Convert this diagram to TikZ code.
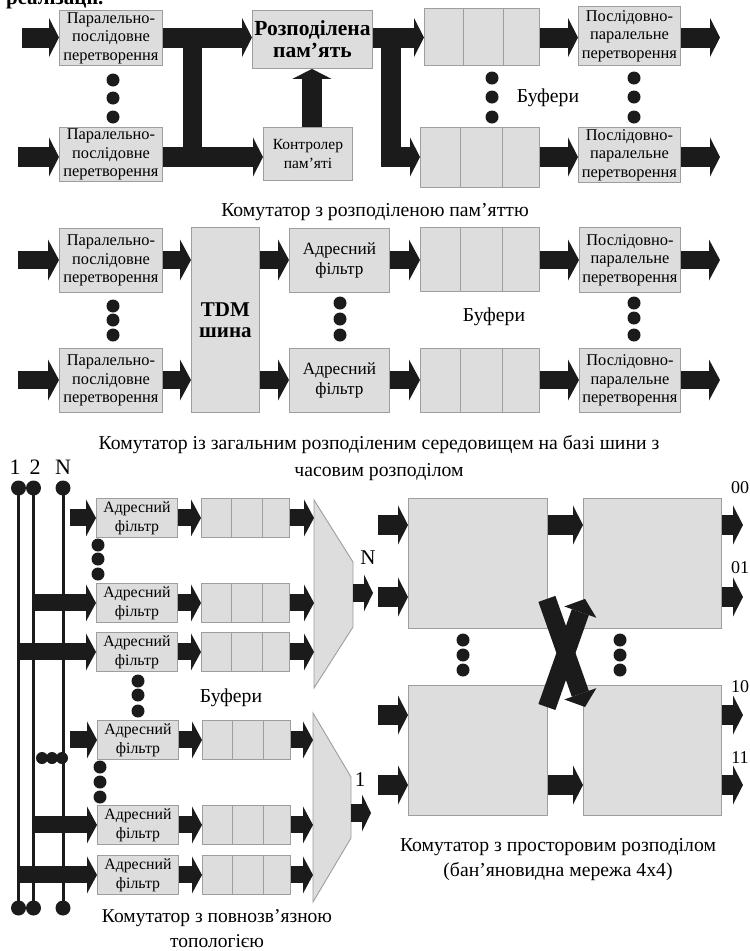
\documentclass[tikz,border=0pt]{standalone}
\usepackage{fontspec}
\setmainfont{Liberation Serif}
\usetikzlibrary{arrows.meta,calc}
\definecolor{boxgray}{RGB}{221,221,221}
\definecolor{bordergray}{RGB}{158,158,158}
\definecolor{ink}{RGB}{27,27,27}
\newcommand\fsBox{\fontsize{16.4}{18.5}\selectfont}
\newcommand\fsSmall{\fontsize{15.8}{19}\selectfont}
\newcommand\fsFilt{\fontsize{17.2}{20}\selectfont}
\newcommand\fsCtrl{\fontsize{15.5}{19}\selectfont}
\newcommand\fsBold{\fontsize{21.5}{22}\selectfont\bfseries}
\newcommand\fsCap{\fontsize{19.7}{26}\selectfont}
\newcommand\fsLbl{\fontsize{22}{24}\selectfont}
\newcommand\fsOut{\fontsize{18}{20}\selectfont}
\begin{document}
\begin{tikzpicture}[x=1pt,y=-1pt,
  box/.style={draw=bordergray, fill=boxgray, line width=0.9pt, inner sep=0pt, align=center, anchor=north west, font=\fsBox},
  sz/.style 2 args={minimum width=#1pt, minimum height=#2pt},
  buf/.style={box, path picture={
     \draw[bordergray, line width=0.9pt]
      ($(path picture bounding box.north west)!0.34!(path picture bounding box.north east)$) --
      ($(path picture bounding box.south west)!0.34!(path picture bounding box.south east)$)
      ($(path picture bounding box.north west)!0.69!(path picture bounding box.north east)$) --
      ($(path picture bounding box.south west)!0.69!(path picture bounding box.south east)$);}},
  bigarrow/.style={draw=ink, line width=20pt, line join=miter, -{Triangle[length=10pt,width=39pt,line width=0pt]}},
  midarrow/.style={draw=ink, line width=18pt, -{Triangle[length=11pt,width=41pt,line width=0pt]}},
  smallarrow/.style={draw=ink, line width=17pt, -{Triangle[length=10pt,width=37pt,line width=0pt]}},
  crossarrow/.style={draw=ink, line width=18pt, -{Triangle[length=14pt,width=34pt,line width=0pt]}},
  fatbar/.style={draw=ink, line width=19pt},
  busline/.style={draw=ink, line width=3pt},
  dot/.style={circle, fill=ink, inner sep=0pt, minimum size=13pt},
  bigdot/.style={circle, fill=ink, inner sep=0pt, minimum size=15pt},
  lbl/.style={inner sep=0pt, font=\fsCap, align=center},
  mux/.style={draw=bordergray, fill=boxgray, line width=0.9pt}
]
\useasboundingbox (0,0) rectangle (750,951);
\fill[white] (0,0) rectangle (750,951);
\begin{scope}
\clip (0,0) rectangle (750,951);
\node[anchor=base west, inner sep=0pt, font=\fontsize{21}{22}\selectfont\bfseries] (frag) at (6,4) {реалізації.};
\end{scope}

% ================= Section 1: shared memory =================
\node[box, sz={103}{55}] (ps1) at (59,10) {Паралельно-\\послідовне\\перетворення};
\node[box, sz={103}{54}] (ps2) at (59,127) {Паралельно-\\послідовне\\перетворення};
\node[box, sz={120}{58}, font=\fsBold] (mem) at (252,10) {Розподілена\\пам’ять};
\node[box, sz={89}{53}, font=\fsCtrl] (ctrl) at (263,127) {Контролер\\пам’яті};
\node[buf, sz={115}{57}] (buf1) at (424,8) {};
\node[buf, sz={119}{60}] (buf2) at (420,127) {};
\node[box, sz={102}{59}] (sp1) at (578,6) {Послідовно-\\паралельне\\перетворення};
\node[box, sz={102}{55}] (sp2) at (578,127) {Послідовно-\\паралельне\\перетворення};

\coordinate (r1) at (0,37.5);
\coordinate (r2) at (0,157);
\coordinate (in1) at (22,37.5);
\coordinate (in2) at (18,157);
\coordinate (tbx) at (192,0);
\coordinate (mbx) at (390.5,0);
\coordinate (out1) at (720,37.5);
\coordinate (out2) at (720,157);

\draw[fatbar] (ps1.east -| tbx) -- (r2 -| tbx);
\draw[bigarrow] (in1) -- (in1 -| ps1.west);
\draw[bigarrow] (in2) -- (in2 -| ps2.west);
\draw[bigarrow] (r1 -| ps1.east) -- (r1 -| mem.west);
\draw[bigarrow] (r2 -| ps2.east) -- (r2 -| ctrl.west);
\draw[bigarrow] ([xshift=4pt]ctrl.north) -- ([xshift=4pt]ctrl.north |- mem.south);
\draw[bigarrow] (r1 -| mem.east) -- (r1 -| buf1.west);
\draw[bigarrow] (r1 -| mbx) -- (r2 -| mbx) -- (r2 -| buf2.west);
\draw[bigarrow] (r1 -| buf1.east) -- (r1 -| sp1.west);
\draw[bigarrow] (r2 -| buf2.east) -- (r2 -| sp2.west);
\draw[bigarrow] (r1 -| sp1.east) -- (out1);
\draw[bigarrow] (r2 -| sp2.east) -- (out2);

\foreach \x/\y [count=\k] in {113/80,113/98,113/117,492/78,492/97,492/117,634/78,634/97,634/117}
  \node[dot] (da\k) at (\x,\y) {};
\node[lbl] (bufl1) at (548,98) {Буфери};
\node[lbl] (cap1) at (375,212) {Комутатор з розподіленою пам'яттю};

% ================= Section 2: TDM bus =================
\node[box, sz={103}{64}] (ps3) at (59,228) {Паралельно-\\послідовне\\перетворення};
\node[box, sz={103}{64}] (ps4) at (59,348) {Паралельно-\\послідовне\\перетворення};
\node[box, sz={68}{185}, font={\fontsize{21}{21}\selectfont\bfseries}] (tdm) at (191,227) {TDM\\шина};
\node[box, sz={100}{64}, font=\fsFilt] (af1) at (289,228) {Адресний\\фільтр};
\node[box, sz={100}{64}, font=\fsFilt] (af2) at (289,348) {Адресний\\фільтр};
\node[buf, sz={119}{64}] (buf3) at (420,227) {};
\node[buf, sz={119}{64}] (buf4) at (420,348) {};
\node[box, sz={101}{65}] (sp3) at (579,227) {Послідовно-\\паралельне\\перетворення};
\node[box, sz={101}{64}] (sp4) at (579,348) {Послідовно-\\паралельне\\перетворення};

\coordinate (in3) at (18,260);
\coordinate (in4) at (18,380);
\coordinate (out3) at (720,260);
\coordinate (out4) at (720,380);
\draw[midarrow] (in3) -- (in3 -| ps3.west);
\draw[midarrow] (in4) -- (in4 -| ps4.west);
\draw[midarrow] (in3 -| ps3.east) -- (in3 -| tdm.west);
\draw[midarrow] (in4 -| ps4.east) -- (in4 -| tdm.west);
\draw[midarrow] (in3 -| tdm.east) -- (in3 -| af1.west);
\draw[midarrow] (in4 -| tdm.east) -- (in4 -| af2.west);
\draw[midarrow] (in3 -| af1.east) -- (in3 -| buf3.west);
\draw[midarrow] (in4 -| af2.east) -- (in4 -| buf4.west);
\draw[midarrow] (in3 -| buf3.east) -- (in3 -| sp3.west);
\draw[midarrow] (in4 -| buf4.east) -- (in4 -| sp4.west);
\draw[midarrow] (in3 -| sp3.east) -- (out3);
\draw[midarrow] (in4 -| sp4.east) -- (out4);

\foreach \x/\y [count=\k] in {113/306,113/320,113/335,340/303,340/319,340/335,634/303,634/318,634/335}
  \node[dot] (db\k) at (\x,\y) {};
\node[lbl] (bufl2) at (494,317) {Буфери};
\node[lbl, font={\fontsize{19.7}{27}\selectfont}] (cap2) at (379,458.5) {Комутатор із загальним розподіленим середовищем на базі шини з\\часовим розподілом};

% ================= Section 3: fully connected =================
\node[inner sep=0pt, font=\fsLbl] (l1) at (15,467) {1};
\node[inner sep=0pt, font=\fsLbl] (l2) at (35,467) {2};
\node[inner sep=0pt, font=\fsLbl] (lN) at (63,467) {N};
\node[bigdot] (t1) at (18.5,488) {};
\node[bigdot] (t2) at (33.5,488) {};
\node[bigdot] (tN) at (63,488) {};
\node[bigdot] (b1) at (18.5,908) {};
\node[bigdot] (b2) at (33.5,908) {};
\node[bigdot] (bN) at (63,908) {};
\draw[busline] (t1.center) -- (b1.center);
\draw[busline] (t2.center) -- (b2.center);
\draw[busline] (tN.center) -- (bN.center);

\foreach \i/\fx/\fy/\bx in {1/96/498/201, 2/96/583/201, 3/96/632/201, 4/97/720/202, 5/97/805/202, 6/97/855/202} {
  \node[box, sz={81}{39}, font=\fsSmall] (f\i) at (\fx,\fy) {Адресний\\фільтр};
  \node[buf, sz={88}{39}] (q\i) at (\bx,\fy) {};
  \draw[smallarrow] (f\i.east) -- (q\i.west);
}
\coordinate (rin1) at (70,0);
\draw[smallarrow] (rin1 |- f1.west) -- (f1.west);
\draw[smallarrow] (t2 |- f2.west) -- (f2.west);
\draw[smallarrow] (t1 |- f3.west) -- (f3.west);
\draw[smallarrow] (rin1 |- f4.west) -- (f4.west);
\draw[smallarrow] (t2 |- f5.west) -- (f5.west);
\draw[smallarrow] (t1 |- f6.west) -- (f6.west);

\draw[mux] (314,500) coordinate (m1a) -- (353,562) -- (353,627) -- (314,688) -- cycle;
\draw[mux] (313,713) coordinate (m2a) -- (351,777) -- (351,838) -- (313,902) -- cycle;
\coordinate (m1w) at (314,0);
\coordinate (m2w) at (313,0);
\foreach \i in {1,2,3} \draw[smallarrow] (q\i.east) -- (q\i.east -| m1w);
\foreach \i in {4,5,6} \draw[smallarrow] (q\i.east) -- (q\i.east -| m2w);
\coordinate (m1o) at (353,593);
\coordinate (n1e) at (373,593);
\coordinate (m2o) at (351,813);
\coordinate (n2e) at (371,813);
\draw[draw=ink, line width=18pt, -{Triangle[length=9pt,width=37pt,line width=0pt]}] (m1o) -- (n1e);
\draw[draw=ink, line width=18pt, -{Triangle[length=9pt,width=37pt,line width=0pt]}] (m2o) -- (n2e);
\node[inner sep=0pt, font=\fontsize{21}{22}\selectfont] (lmN) at (368,558) {N};
\node[inner sep=0pt, font=\fontsize{21}{22}\selectfont] (lm1) at (360,780) {1};

\foreach \x/\y [count=\k] in {98/545,98/559,98/574,138/681,138/695,138/711,100/767,100/782,100/797}
  \node[dot] (dc\k) at (\x,\y) {};
\foreach \x [count=\k] in {42,52,62}
  \node[dot, minimum size=12pt] (dh\k) at (\x,758) {};
\node[lbl] (bufl3) at (231,698) {Буфери};
\node[lbl, font={\fontsize{19.5}{25}\selectfont}] (cap3) at (217,929) {Комутатор з повнозв’язною\\топологією};

% ================= Section 4: banyan =================
\node[box, sz={139}{130}] (se1) at (408,498) {};
\node[box, sz={138}{130}] (se2) at (583,498) {};
\node[box, sz={139}{130}] (se3) at (408,685) {};
\node[box, sz={138}{130}] (se4) at (583,685) {};
\coordinate (ya) at (378,525);
\coordinate (yb) at (378,597);
\coordinate (yc) at (378,715);
\coordinate (yd) at (378,785);
\coordinate (xo) at (743,0);
\draw[bigarrow] (ya) -- (ya -| se1.west);
\draw[bigarrow] (yb) -- (yb -| se1.west);
\draw[bigarrow] (yc) -- (yc -| se3.west);
\draw[bigarrow] (yd) -- (yd -| se3.west);
\draw[bigarrow] (ya -| se1.east) -- (ya -| se2.west);
\draw[bigarrow] (yd -| se3.east) -- (yd -| se4.west);
\draw[bigarrow] (ya -| se2.east) -- (ya -| xo);
\draw[bigarrow] (yb -| se2.east) -- (yb -| xo);
\draw[bigarrow] (yc -| se4.east) -- (yc -| xo);
\draw[bigarrow] (yd -| se4.east) -- (yd -| xo);
\draw[crossarrow] ($(se1.south east)+(-1,-30)$) -- ($(se4.north west)+(2,22)$);
\draw[crossarrow] ($(se3.north east)+(-1,22)$) -- ($(se2.south west)+(2,-30)$);

\foreach \x/\y [count=\k] in {463/640,463/655,463/670,620/640,620/655,620/670}
  \node[dot] (dd\k) at (\x,\y) {};
\node[inner sep=0pt, font=\fsOut] (o00) at (740,488) {00};
\node[inner sep=0pt, font=\fsOut] (o01) at (740,568) {01};
\node[inner sep=0pt, font=\fsOut] (o10) at (740,687) {10};
\node[inner sep=0pt, font=\fsOut] (o11) at (740,758) {11};
\node[lbl, font={\fontsize{19.7}{25}\selectfont}] (cap4) at (558,859.5) {Комутатор з просторовим розподілом\\(бан’яновидна мережа 4х4)};
\end{tikzpicture}
\end{document}
